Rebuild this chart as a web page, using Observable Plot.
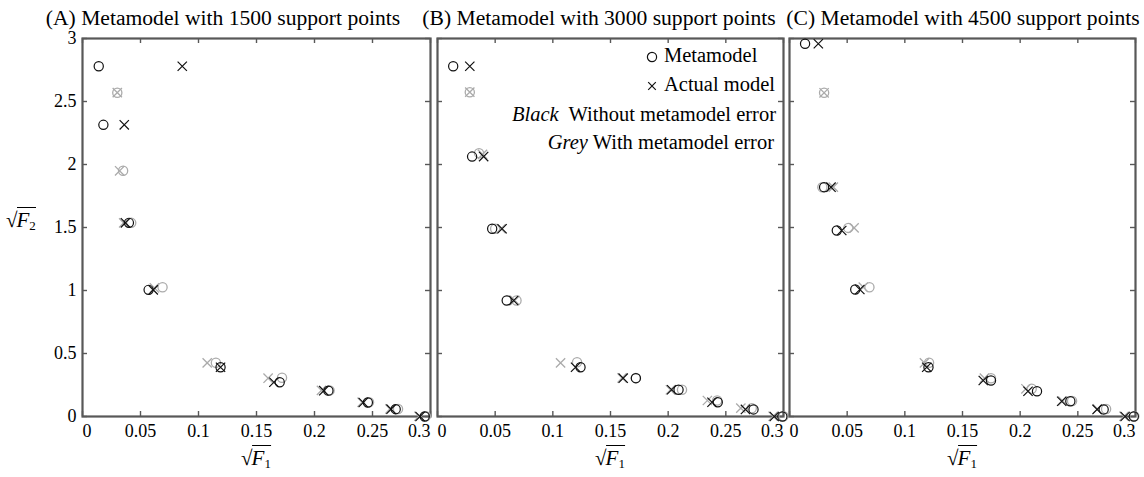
<!DOCTYPE html>
<html>
<head>
<meta charset="utf-8">
<script src="https://cdn.jsdelivr.net/npm/d3@7"></script>
<script src="https://cdn.jsdelivr.net/npm/@observablehq/plot@0.6"></script>
<style>
  html, body { margin: 0; padding: 0; background: #fff; }
  #fig { position: relative; width: 1144px; height: 477px; background: #fff;
         font-family: "Liberation Serif", "Times New Roman", serif; color: #000; overflow: hidden; }
  #fig svg, #fig svg text { font-family: "Liberation Serif", "Times New Roman", serif !important; }
  .lbl { position: absolute; white-space: nowrap; line-height: 1; }
  .ctr { transform: translateX(-50%); }
  .rgt { transform: translateX(-100%); }
  .ol { border-top: 1.3px solid #000; padding-top: 0px; margin-left: -1px; }
  .ol sub { font-size: 0.62em; vertical-align: -0.25em; font-style: normal; }
</style>
</head>
<body>
<div id="fig"></div>
<script>
// ---------- data ----------
const xTicks = [0, 0.05, 0.1, 0.15, 0.2, 0.25, 0.3];
const yTicks = [0, 0.5, 1, 1.5, 2, 2.5, 3];
const titles = [
  "(A) Metamodel with 1500 support points",
  "(B) Metamodel with 3000 support points",
  "(C) Metamodel with 4500 support points"
];
const legendSymbols = ["Metamodel", "Actual model"];
const legendColours = [["Black", "Without metamodel error"], ["Grey", "With metamodel error"]];

// Panel A (1500 support points): [sqrt(F1), sqrt(F2)]
const A_blackMeta   = [[0.014,2.78],[0.018,2.315],[0.040,1.537],[0.057,1.005],[0.119,0.391],[0.170,0.272],[0.212,0.205],[0.246,0.111],[0.270,0.058],[0.295,0.0]];
const A_blackActual = [[0.086,2.78],[0.036,2.315],[0.037,1.537],[0.061,1.005],[0.119,0.391],[0.165,0.272],[0.208,0.205],[0.242,0.111],[0.266,0.058],[0.291,0.0]];
const A_greyMeta    = [[0.030,2.57],[0.035,1.95],[0.042,1.537],[0.069,1.026],[0.115,0.426],[0.172,0.307],[0.213,0.207],[0.247,0.113],[0.272,0.060],[0.296,0.002]];
const A_greyActual  = [[0.030,2.57],[0.032,1.95],[0.0355,1.537],[0.062,1.020],[0.1075,0.426],[0.160,0.304],[0.206,0.207],[0.241,0.113],[0.265,0.060],[0.290,0.002]];

// Panel B (3000 support points)
const B_blackMeta   = [[0.0136,2.78],[0.030,2.063],[0.0474,1.49],[0.060,0.921],[0.124,0.391],[0.172,0.304],[0.209,0.212],[0.243,0.113],[0.274,0.056],[0.299,0.0]];
const B_blackActual = [[0.028,2.78],[0.040,2.063],[0.056,1.49],[0.066,0.921],[0.1197,0.391],[0.161,0.304],[0.203,0.212],[0.238,0.113],[0.267,0.056],[0.292,0.0]];
const B_greyMeta    = [[0.028,2.574],[0.036,2.09],[0.050,1.49],[0.0685,0.921],[0.121,0.431],[0.172,0.306],[0.212,0.212],[0.2425,0.127],[0.2725,0.066],[0.300,0.002]];
const B_greyActual  = [[0.028,2.574],[0.039,2.08],[0.055,1.49],[0.067,0.921],[0.1067,0.426],[0.160,0.306],[0.202,0.212],[0.234,0.127],[0.263,0.066],[0.291,0.002]];

// Panel C (4500 support points)
const C_blackMeta   = [[0.0135,2.958],[0.030,1.82],[0.041,1.476],[0.057,1.008],[0.1205,0.391],[0.1747,0.286],[0.2146,0.200],[0.2435,0.121],[0.2724,0.056],[0.2985,0.0]];
const C_blackActual = [[0.025,2.958],[0.036,1.82],[0.0453,1.476],[0.061,1.008],[0.119,0.391],[0.168,0.286],[0.2068,0.200],[0.236,0.121],[0.2667,0.056],[0.291,0.0]];
const C_greyMeta    = [[0.030,2.569],[0.0285,1.82],[0.051,1.497],[0.0693,1.026],[0.121,0.426],[0.1747,0.304],[0.210,0.220],[0.245,0.123],[0.2745,0.060],[0.299,0.002]];
const C_greyActual  = [[0.030,2.569],[0.038,1.82],[0.056,1.497],[0.064,1.026],[0.117,0.426],[0.169,0.304],[0.205,0.220],[0.237,0.123],[0.267,0.060],[0.290,0.002]];

// ---------- layout / style ----------
const H = 477, MT = 38, MB = 61;
const frameColor = "#585858";
const black = "#111111", grey = "#ababab";
const fontFamily = '"Liberation Serif", "Times New Roman", serif';

const panels = [
  {title: titles[0], bm: A_blackMeta, ba: A_blackActual, gm: A_greyMeta, ga: A_greyActual, left: 0,   width: 432, ml: 82, mr: 2, yLabels: true,  titleX: 223},
  {title: titles[1], bm: B_blackMeta, ba: B_blackActual, gm: B_greyMeta, ga: B_greyActual, left: 435, width: 350, ml: 2,  mr: 2, yLabels: false, titleX: 599},
  {title: titles[2], bm: C_blackMeta, ba: C_blackActual, gm: C_greyMeta, ga: C_greyActual, left: 787, width: 350, ml: 2,  mr: 2, yLabels: false, titleX: 963}
];

const fig = document.getElementById("fig");

function makePanel(p) {
  const innerW = p.width - p.ml - p.mr, innerH = H - MT - MB;
  const tx = 0.3 * 5 / innerW;   // 5px tick in data units (x)
  const ty = 3 * 5 / innerH;     // 5px tick in data units (y)
  const tickStyle = {stroke: frameColor, strokeWidth: 1.4};
  const axisStyle = {tickSize: 0, fontSize: 18, fontFamily, fill: "#000"};
  const fmt = d => String(d);
  const marks = [
    Plot.ruleX(xTicks, {x: d => d, y1: 0, y2: ty, ...tickStyle}),
    Plot.ruleX(xTicks, {x: d => d, y1: 3 - ty, y2: 3, ...tickStyle}),
    Plot.ruleY(yTicks, {y: d => d, x1: 0, x2: tx, ...tickStyle}),
    Plot.ruleY(yTicks, {y: d => d, x1: 0.3 - tx, x2: 0.3, ...tickStyle}),
    Plot.frame({stroke: frameColor, strokeWidth: 2.2}),
    Plot.axisX([xTicks[0]], {...axisStyle, tickPadding: 8, tickFormat: fmt, textAnchor: "start"}),
    Plot.axisX(xTicks.slice(1, -1), {...axisStyle, tickPadding: 8, tickFormat: fmt}),
    Plot.axisX([xTicks[xTicks.length - 1]], {...axisStyle, tickPadding: 8, tickFormat: fmt, textAnchor: "end"}),
    Plot.dot(p.ga, {x: d => d[0], y: d => d[1], symbol: "times", r: 4.3, stroke: grey, strokeWidth: 1.3}),
    Plot.dot(p.gm, {x: d => d[0], y: d => d[1], symbol: "circle", r: 4.6, stroke: grey, strokeWidth: 1.3}),
    Plot.dot(p.ba, {x: d => d[0], y: d => d[1], symbol: "times", r: 4.3, stroke: black, strokeWidth: 1.2}),
    Plot.dot(p.bm, {x: d => d[0], y: d => d[1], symbol: "circle", r: 4.6, stroke: black, strokeWidth: 1.2})
  ];
  if (p.yLabels) marks.push(Plot.axisY(yTicks, {...axisStyle, tickPadding: 6, tickFormat: fmt}));
  const svg = Plot.plot({
    width: p.width, height: H,
    marginTop: MT, marginBottom: MB, marginLeft: p.ml, marginRight: p.mr,
    x: {domain: [0, 0.3]},
    y: {domain: [0, 3], ...(p.yLabels ? {} : {axis: null})},
    style: {fontFamily, fontSize: "18px", background: "transparent", color: "#000", overflow: "visible"},
    marks
  });
  svg.style.position = "absolute";
  svg.style.top = "0px";
  svg.style.left = p.left + "px";
  svg.style.fontFamily = fontFamily;
  fig.appendChild(svg);

  const t = document.createElement("div");
  t.className = "lbl ctr";
  t.style.fontSize = "21.6px";
  t.style.left = p.titleX + "px";
  t.style.top = "8px";
  t.textContent = p.title;
  fig.appendChild(t);

  const xl = document.createElement("div");
  xl.className = "lbl ctr";
  xl.style.fontSize = "21px";
  xl.style.left = (p.left + p.ml + innerW / 2) + "px";
  xl.style.top = "448px";
  xl.innerHTML = '<span>√</span><span class="ol"><i>F</i><sub>1</sub></span>';
  fig.appendChild(xl);
}
panels.forEach(makePanel);

const yl = document.createElement("div");
yl.className = "lbl";
yl.style.fontSize = "21px";
yl.style.left = "6px";
yl.style.top = "210px";
yl.innerHTML = '<span>√</span><span class="ol"><i>F</i><sub>2</sub></span>';
fig.appendChild(yl);

const legSize = 20.5;
function legendRow(html, x, top, cls) {
  const d = document.createElement("div");
  d.className = "lbl " + (cls || "");
  d.style.fontSize = legSize + "px";
  d.style.left = x + "px";
  d.style.top = top + "px";
  d.innerHTML = html;
  fig.appendChild(d);
  return d;
}
const circleSwatch = `<svg width="12" height="12" style="position:absolute;left:-18px;top:6px;overflow:visible"><circle cx="6" cy="6" r="4.6" fill="none" stroke="${black}" stroke-width="1.2"/></svg>`;
const timesSwatch = `<svg width="12" height="12" style="position:absolute;left:-18px;top:6px;overflow:visible"><path d="M2.2,2.2L9.8,9.8M2.2,9.8L9.8,2.2" fill="none" stroke="${black}" stroke-width="1.2"/></svg>`;
legendRow(circleSwatch + legendSymbols[0], 664, 45);
legendRow(timesSwatch + legendSymbols[1], 664, 74);
legendRow(`<i>${legendColours[0][0]}</i>&nbsp; ${legendColours[0][1]}`, 776, 104, "rgt");
legendRow(`<i>${legendColours[1][0]}</i> ${legendColours[1][1]}`, 774, 132, "rgt");
</script>
</body>
</html>
